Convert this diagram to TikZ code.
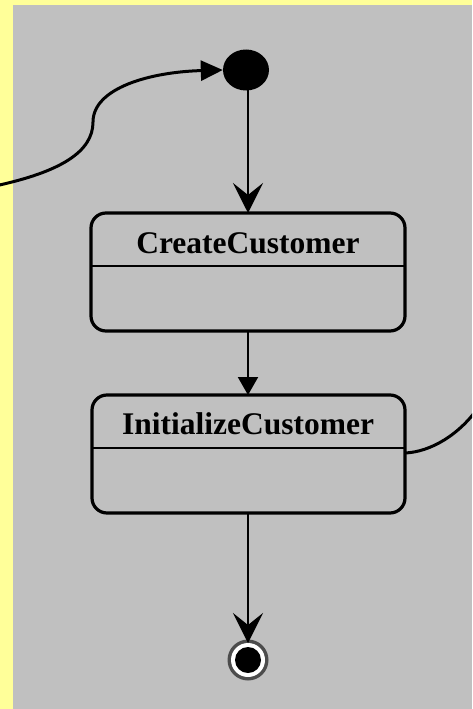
\documentclass[tikz,border=0pt]{standalone}
\usepackage{fontspec}
\setmainfont{Liberation Serif}
\usetikzlibrary{arrows.meta,shapes.geometric}
\definecolor{paneyellow}{HTML}{FFFF99}
\definecolor{panegray}{HTML}{C0C0C0}
\tikzset{
  statebox/.style={draw=black, line width=3.2pt, rounded corners=15pt, fill=panegray},
  divider/.style={draw=black, line width=2pt},
  flow/.style={draw=black, line width=2pt},
  bigtip/.style={-{Stealth[length=30pt, width=30pt, inset=12pt]}},
  smalltip/.style={-{Triangle[length=18pt, width=20pt]}},
  statename/.style={font=\fontsize{31.5}{36}\selectfont\bfseries, inner sep=0pt, anchor=base},
}
\begin{document}
\begin{tikzpicture}[x=1pt, y=-1pt]
  \useasboundingbox (0,0) rectangle (472,709);
  \fill[paneyellow] (0,0) rectangle (472,709);
  \fill[panegray] (13,5) rectangle (472,709);
  \begin{scope}
    \clip (0,0) rectangle (472,709);

    % initial state
    \node[draw=none, fill=black, ellipse, minimum width=46pt, minimum height=41pt, inner sep=0pt] (init) at (246,70) {};

    % state boxes
    \draw[statebox] (91,213) rectangle (405,331);
    \draw[divider] (91,266) -- (405,266);
    \node[statename] (create) at (248,253) {CreateCustomer};
    \coordinate (createTop) at (248,213);
    \coordinate (createBot) at (248,331);

    \draw[statebox] (92,395) rectangle (405,513);
    \draw[divider] (92,448) -- (405,448);
    \node[statename] (initialize) at (248,434) {InitializeCustomer};
    \coordinate (initTop) at (248,395);
    \coordinate (initBot) at (248,513);
    \coordinate (initRight) at (405,453);

    % final state
    \node[circle, fill=gray!60!black, minimum size=41pt, inner sep=0pt] (finalRing) at (248,660) {};
    \node[circle, fill=white, minimum size=34pt, inner sep=0pt] (finalGap) at (248,660) {};
    \node[circle, fill=black, minimum size=26pt, inner sep=0pt] (final) at (248,660) {};

    % transitions
    \draw[flow, bigtip] (248,90) -- (createTop);
    \draw[flow, smalltip] (createBot) -- (initTop);
    \draw[flow, bigtip] (initBot) -- (248,643);

    % incoming transition from the left edge
    \coordinate (leftIn) at (-5,186);
    \coordinate (bend) at (93,122);
    \draw[line width=3pt, -{Triangle[length=22pt, width=20pt]}]
      (leftIn) .. controls (60,172) and (93,152) .. (bend)
      .. controls (93,88) and (150,72) .. (init.west);

    % outgoing transition to the right edge
    \draw[line width=3pt] (initRight) .. controls (430,452) and (460,435) .. (480,405);
  \end{scope}
\end{tikzpicture}
\end{document}
